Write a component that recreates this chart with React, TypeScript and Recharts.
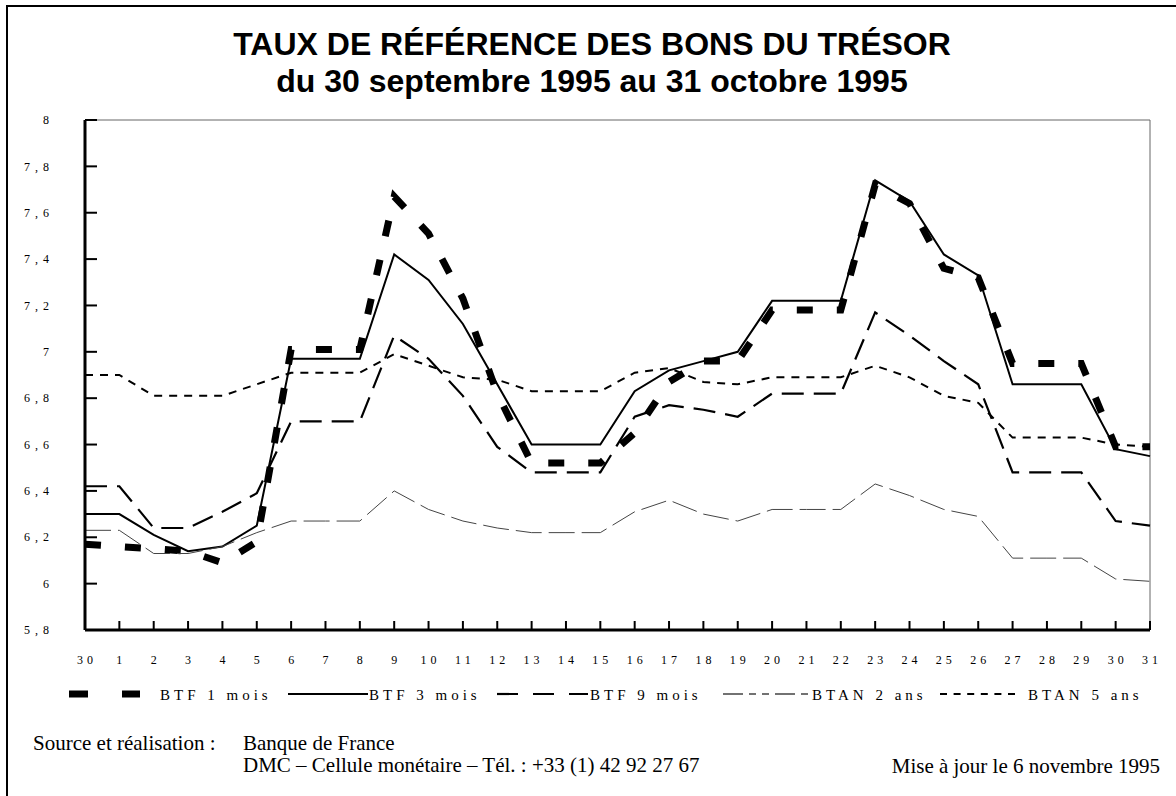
import React from 'react';
import { LineChart, Line, XAxis, YAxis, ReferenceLine } from 'recharts';

// jours du 30 septembre au 31 octobre 1995
const days = ['30', '1', '2', '3', '4', '5', '6', '7', '8', '9', '10', '11', '12', '13', '14', '15',
  '16', '17', '18', '19', '20', '21', '22', '23', '24', '25', '26', '27', '28', '29', '30', '31'];

const yTicks = [5.8, 6, 6.2, 6.4, 6.6, 6.8, 7, 7.2, 7.4, 7.6, 7.8, 8];

const btf1 = [6.17, 6.16, 6.15, 6.14, 6.09, 6.18, 7.01, 7.01, 7.01, 7.67, 7.51, 7.23, 6.82, 6.52, 6.52, 6.52,
  6.65, 6.87, 6.96, 6.96, 7.18, 7.18, 7.18, 7.72, 7.64, 7.36, 7.32, 6.95, 6.95, 6.95, 6.59, 6.59];
const btf3 = [6.30, 6.30, 6.21, 6.14, 6.16, 6.25, 6.97, 6.97, 6.97, 7.42, 7.31, 7.12, 6.86, 6.60, 6.60, 6.60,
  6.83, 6.92, 6.96, 7.00, 7.22, 7.22, 7.22, 7.74, 7.65, 7.42, 7.33, 6.86, 6.86, 6.86, 6.58, 6.55];
const btf9 = [6.42, 6.42, 6.24, 6.24, 6.31, 6.39, 6.70, 6.70, 6.70, 7.07, 6.97, 6.81, 6.59, 6.48, 6.48, 6.48,
  6.72, 6.77, 6.75, 6.72, 6.82, 6.82, 6.82, 7.17, 7.07, 6.96, 6.86, 6.48, 6.48, 6.48, 6.27, 6.25];
const btan2 = [6.23, 6.23, 6.13, 6.13, 6.16, 6.22, 6.27, 6.27, 6.27, 6.40, 6.32, 6.27, 6.24, 6.22, 6.22, 6.22,
  6.31, 6.36, 6.30, 6.27, 6.32, 6.32, 6.32, 6.43, 6.38, 6.32, 6.29, 6.11, 6.11, 6.11, 6.02, 6.01];
const btan5 = [6.90, 6.90, 6.81, 6.81, 6.81, 6.86, 6.91, 6.91, 6.91, 6.99, 6.94, 6.89, 6.88, 6.83, 6.83, 6.83,
  6.91, 6.93, 6.87, 6.86, 6.89, 6.89, 6.89, 6.94, 6.89, 6.81, 6.78, 6.63, 6.63, 6.63, 6.60, 6.59];

const seriesNames = ['BTF 1 mois', 'BTF 3 mois', 'BTF 9 mois', 'BTAN 2 ans', 'BTAN 5 ans'];

const data = days.map((day, i) => ({
  idx: i,
  day,
  btf1: btf1[i],
  btf3: btf3[i],
  btf9: btf9[i],
  btan2: btan2[i],
  btan5: btan5[i],
}));

const series = [
  { key: 'btf1', color: '#000', width: 7, dash: '16 24', legendDash: '19 34', symX: 69, symW: 71, textX: 160 },
  { key: 'btf3', color: '#000', width: 2, dash: undefined, legendDash: undefined, symX: 288, symW: 80, textX: 369 },
  { key: 'btf9', color: '#000', width: 2.2, dash: '22 10', legendDash: '21 15', symX: 497, symW: 91, textX: 590 },
  { key: 'btan2', color: '#444', width: 1, dash: '26 7', legendDash: '20 6 7 6 7 6', symX: 723, symW: 85, textX: 812 },
  { key: 'btan5', color: '#000', width: 2, dash: '8 7', legendDash: '7 6.6', symX: 940, symW: 76, textX: 1028 },
];

const serif = "'Liberation Serif', 'Times New Roman', serif";
const sans = "'Liberation Sans', Arial, sans-serif";

const fmt = (v: number) => String(v).replace('.', ',');

const XTick = (props: any) => {
  const { x, y, payload } = props;
  return (
    <g>
      <line x1={x} x2={x} y1={y} y2={y - 9} stroke="#000" strokeWidth={2} />
      <text x={x + 2} y={y + 34} textAnchor="middle" fontFamily={serif} fontSize={12}
        letterSpacing={4} fill="#000">{days[payload.value]}</text>
    </g>
  );
};

const YTick = (props: any) => {
  const { x, y, payload } = props;
  return (
    <g>
      <line x1={x} x2={x + 12} y1={y} y2={y} stroke="#000" strokeWidth={2} />
      <text x={x - 31} y={y} dy="0.35em" textAnchor="end" fontFamily={serif} fontSize={12}
        letterSpacing={5} fill="#000">{fmt(payload.value)}</text>
    </g>
  );
};

export default function App() {
  return (
    <div style={{ position: 'absolute', left: 0, top: 0, width: 1176, height: 796, overflow: 'hidden', background: '#fff' }}>
      <div style={{ position: 'absolute', left: 0, top: 0 }}>
        <LineChart width={1176} height={700} data={data} margin={{ top: 120, right: 26, left: 0, bottom: 0 }}>
          <XAxis dataKey="idx" type="number" domain={[0, 31]} ticks={days.map((_, i) => i)} interval={0}
            height={70} tickSize={0} tickMargin={0} tickLine={false}
            axisLine={{ stroke: '#000', strokeWidth: 3 }} tick={XTick} />
          <YAxis domain={[5.8, 8]} ticks={yTicks} interval={0} width={85} tickSize={0} tickMargin={0}
            tickLine={false} axisLine={{ stroke: '#000', strokeWidth: 3 }} tick={YTick} />
          <ReferenceLine y={8} stroke="#666" strokeWidth={1} />
          <ReferenceLine x={31} stroke="#666" strokeWidth={1} />
          {series.map((s, i) => (
            <Line key={s.key} type="linear" dataKey={s.key} name={seriesNames[i]} stroke={s.color}
              strokeWidth={s.width} strokeDasharray={s.dash} dot={false} activeDot={false}
              isAnimationActive={false} />
          ))}
        </LineChart>
      </div>
      <svg width={1176} height={796} style={{ position: 'absolute', left: 0, top: 0, pointerEvents: 'none' }}>
        <path d="M7 800 L7 6 L1180 6" fill="none" stroke="#000" strokeWidth={2} />
        <text x={592} y={55} textAnchor="middle" fontFamily={sans} fontWeight="bold" fontSize={32} fill="#000">
          TAUX DE RÉFÉRENCE DES BONS DU TRÉSOR
        </text>
        <text x={592} y={92} textAnchor="middle" fontFamily={sans} fontWeight="bold" fontSize={32} fill="#000">
          du 30 septembre 1995 au 31 octobre 1995
        </text>
        {series.map((s, i) => (
          <g key={s.key}>
            <line x1={s.symX} x2={s.symX + s.symW} y1={694} y2={694} stroke={s.color}
              strokeWidth={s.key === 'btf1' ? 7 : s.key === 'btan2' ? 1.5 : s.width}
              strokeDasharray={s.legendDash} />
            <text x={s.textX} y={700} fontFamily={serif} fontSize={15} letterSpacing={4} fill="#000">
              {seriesNames[i]}
            </text>
          </g>
        ))}
        <text x={33} y={750} fontFamily={serif} fontSize={21} fill="#000">Source et réalisation :</text>
        <text x={243} y={750} fontFamily={serif} fontSize={21} fill="#000">Banque de France</text>
        <text x={243} y={772} fontFamily={serif} fontSize={21} fill="#000">
          DMC – Cellule monétaire  – Tél. : +33 (1) 42 92 27 67
        </text>
        <text x={1160} y={773} textAnchor="end" fontFamily={serif} fontSize={21} fill="#000">
          Mise à jour le 6 novembre 1995
        </text>
      </svg>
    </div>
  );
}
